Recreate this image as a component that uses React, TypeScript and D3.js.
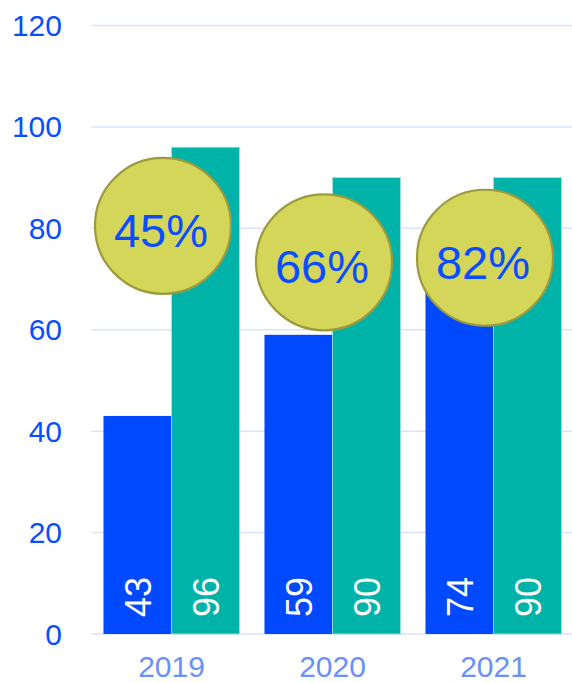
import React from "react";
import * as d3 from "d3";

const years = ["2019", "2020", "2021"];
const seriesA = [43, 59, 74];
const seriesB = [96, 90, 90];
const percentLabels = ["45%", "66%", "82%"];
const badgeLevels = [80.5, 73.3, 74.2];
const yTicks = [0, 20, 40, 60, 80, 100, 120];

const W = 572;
const H = 683;

export default function App() {
  const y = d3.scaleLinear().domain([0, 120]).range([634, 25.5]);
  const x = d3.scaleBand<string>().domain(years).range([91, 574]).paddingInner(0.155).paddingOuter(0.0775);
  const inner = d3.scaleBand<string>().domain(["a", "b"]).range([0, x.bandwidth()]);
  const font = "Liberation Sans, Arial, sans-serif";

  return (
    <svg width={W} height={H} style={{ position: "absolute", left: 0, top: 0 }} fontFamily={font}>
      {yTicks.map((t) => (
        <g key={t}>
          <line x1={91} x2={572} y1={y(t)} y2={y(t)} stroke="#d9e3fe" strokeWidth={1.5} />
          <text x={62} y={y(t) + 10.5} textAnchor="end" fontSize={30} fill="#0a4dff">
            {t}
          </text>
        </g>
      ))}
      {years.map((yr, i) => {
        const x0 = x(yr)!;
        const xa = x0 + inner("a")!;
        const xb = x0 + inner("b")!;
        const bw = inner.bandwidth();
        return (
          <g key={yr}>
            <rect x={xa} y={y(seriesA[i])} width={bw} height={y(0) - y(seriesA[i])} fill="#0049ff" />
            <rect x={xb} y={y(seriesB[i])} width={bw} height={y(0) - y(seriesB[i])} fill="#00b3a9" stroke="#9fe3de" strokeWidth={0.8} />
            <text transform={`translate(${xa + bw / 2 + 13.5},${y(0) - 17}) rotate(-90)`} fontSize={36} fill="#ffffff">
              {seriesA[i]}
            </text>
            <text transform={`translate(${xb + bw / 2 + 13.5},${y(0) - 17}) rotate(-90)`} fontSize={36} fill="#ffffff">
              {seriesB[i]}
            </text>
            <text x={x0 + x.bandwidth() / 2} y={676.5} textAnchor="middle" fontSize={30} fill="#6a91fa">
              {yr}
            </text>
          </g>
        );
      })}
      {years.map((yr, i) => {
        const cx = x(yr)! + x.bandwidth() / 2 - 8.5;
        const cy = y(badgeLevels[i]);
        return (
          <g key={"c" + yr}>
            <circle cx={cx} cy={cy} r={68} fill="#d3d659" stroke="#9c9a3e" strokeWidth={2.2} />
            <text x={cx - 2} y={cy + 21} textAnchor="middle" fontSize={47} fill="#0a4dff">
              {percentLabels[i]}
            </text>
          </g>
        );
      })}
    </svg>
  );
}
